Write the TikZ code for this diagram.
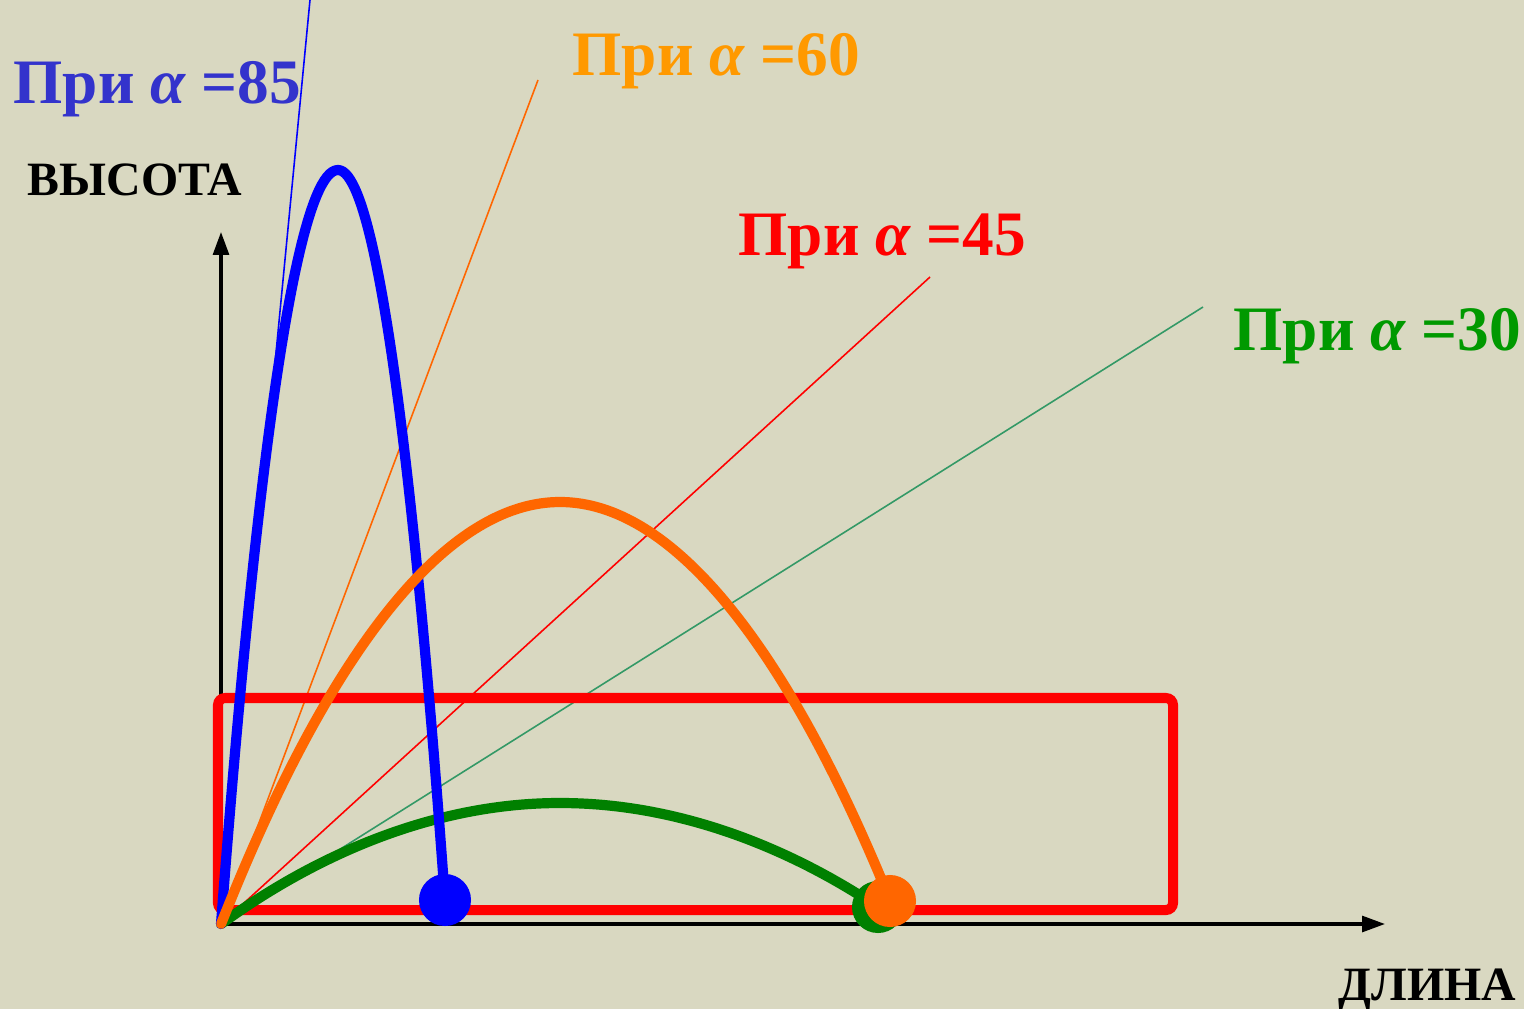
\documentclass[tikz,border=0pt]{standalone}
\usepackage{fontspec}
\setmainfont{Liberation Serif}
\usetikzlibrary{arrows.meta}
\definecolor{bgbeige}{RGB}{217,216,193}
\definecolor{lblblue}{RGB}{51,51,204}
\definecolor{lblorange}{RGB}{255,153,0}
\definecolor{lblgreen}{RGB}{0,153,0}
\definecolor{trajorange}{RGB}{255,102,0}
\definecolor{trajgreen}{RGB}{0,128,0}
\definecolor{raygreen}{RGB}{51,153,102}

\begin{document}
\begin{tikzpicture}[x=0.01cm, y=-0.01cm,
  lbl/.style={font=\fontsize{18}{21}\selectfont\bfseries, anchor=base west, inner sep=0pt},
  axlbl/.style={font=\fontsize{13.6}{16}\selectfont\bfseries, anchor=base west, inner sep=0pt},
  axis/.style={-{Triangle[length=6.5pt,width=4.5pt]}, line width=0.9pt},
  ray/.style={line width=0.45pt},
  traj/.style={line width=2.9pt, line cap=round, line join=round},
  landing/.style={circle, inner sep=0pt, minimum size=0.52cm}
]
  \useasboundingbox[fill=bgbeige] (0,0) rectangle (1524,1009);

  % origin and ray ends
  \coordinate (O)   at (221,924);
  \coordinate (r85) at (310,0);
  \coordinate (r60) at (538,80);
  \coordinate (r45) at (930,277);
  \coordinate (r30) at (1203,307);
  \coordinate (ytop) at (221,232);
  \coordinate (xend) at (1385,924);

  % labels
  \node[lbl, text=lblblue]   (l85) at (13,103)   {При {\itshape α} =85};
  \node[lbl, text=lblorange] (l60) at (572,75)   {При {\itshape α} =60};
  \node[lbl, text=red]       (l45) at (738,255)  {При {\itshape α} =45};
  \node[lbl, text=lblgreen]  (l30) at (1233,350) {При {\itshape α} =30};
  \node[axlbl] (hgt) at (27,195)   {ВЫСОТА};
  \node[axlbl] (len) at (1338,1000) {ДЛИНА};

  % axes
  \draw[axis] (O) -- (ytop);
  \draw[axis] (O) -- (xend);

  % launch directions
  \draw[ray, blue]       (O) -- (r85);
  \draw[ray, trajorange] (O) -- (r60);
  \draw[ray, red]        (O) -- (r45);
  \draw[ray, raygreen]   (O) -- (r30);

  % zone
  \draw[red, line width=2.85pt, rounded corners=2pt] (218,698) rectangle (1173,910);

  % landing points
  \node[landing, fill=trajgreen]  (dot30) at (878,907) {};
  \node[landing, fill=blue]       (dot85) at (445,900) {};

  % trajectories
  \draw[traj, trajgreen]  (O) parabola bend (560,803) (dot30.center);
  \draw[traj, blue]       (O) parabola bend (338,170) (dot85.center);
  \draw[traj, trajorange] (O) parabola bend (560,502) (888,895);
  \node[landing, fill=trajorange] (dot60) at (890,901) {};
\end{tikzpicture}
\end{document}
